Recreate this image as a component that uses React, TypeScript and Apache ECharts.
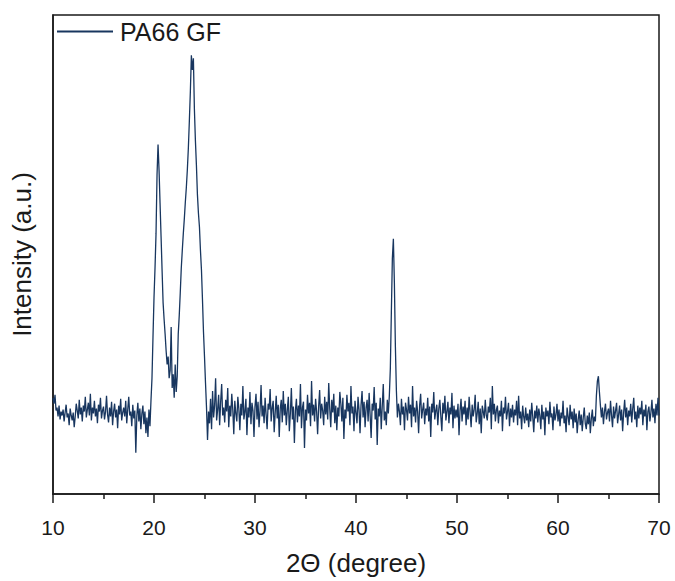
import React, { useEffect, useRef } from "react";
import * as echarts from "echarts";

const seriesName = "PA66 GF";
const angleStart = 10;
const angleStep = 0.1;
const xTicks = [10, 20, 30, 40, 50, 60, 70];

const intensity: number[] = [
  98, 92, 101, 85, 88, 79, 90, 76, 84, 80,
  86, 74, 83, 91, 78, 82, 70, 87, 80, 75,
  83, 68, 79, 92, 85, 77, 96, 81, 88, 74,
  90, 84, 99, 78, 86, 93, 80, 102, 75, 88,
  82, 95, 79, 87, 72, 91, 84, 98, 77, 85,
  89, 76, 84, 100, 81, 73, 88, 79, 94, 70,
  84, 92, 78, 86, 67, 90, 81, 97, 75, 83,
  88, 79, 95, 72, 86, 99, 80, 84, 69, 91,
  77, 85, 42, 80, 93, 74, 87, 66, 82, 90,
  71, 84, 62, 78, 58, 86, 69, 95, 118, 160,
  200, 230, 265, 325, 356, 330, 296, 262, 228, 195,
  178, 163, 146, 132, 140, 118, 126, 170, 108, 122,
  98, 132, 104, 120, 163, 182, 205, 230, 248, 265,
  280, 297, 312, 330, 352, 380, 410, 447, 432, 444,
  392, 360, 335, 305, 286, 272, 248, 228, 198, 165,
  140, 113, 88, 55, 84, 72, 97, 66, 105, 78,
  90, 118, 75, 86, 101, 70, 94, 112, 80, 88,
  73, 96, 84, 108, 68, 90, 79, 102, 86, 61,
  95, 82, 74, 99, 87, 65, 92, 80, 110, 76,
  84, 97, 60, 88, 78, 104, 71, 93, 85, 58,
  89, 102, 76, 94, 68, 85, 111, 79, 90, 72,
  98, 81, 66, 92, 86, 107, 74, 88, 95, 63,
  83, 100, 77, 91, 58, 87, 96, 73, 105, 80,
  92, 70, 86, 99, 64, 82, 108, 76, 89, 52,
  85, 97, 73, 90, 79, 112, 67, 88, 94, 47,
  86, 75, 101, 82, 93, 69, 115, 80, 91, 74,
  97, 84, 61, 89, 106, 77, 92, 85, 70, 99,
  81, 94, 76, 113, 87, 68, 96, 83, 102, 72,
  90, 65, 88, 79, 104, 92, 74, 98, 56, 86,
  77, 101, 84, 93, 70, 110, 82, 89, 64, 95,
  83, 72, 99, 86, 62, 91, 105, 78, 94, 68,
  88, 96, 74, 103, 80, 57, 92, 85, 109, 76,
  93, 50, 87, 79, 98, 66, 90, 112, 75, 84,
  70, 96, 82, 100, 128, 185, 240, 260, 215, 150,
  105, 78, 92, 84, 70, 97, 81, 89, 65, 93,
  86, 75, 99, 82, 91, 68, 110, 79, 88, 73,
  95, 84, 62, 90, 102, 77, 86, 93, 71, 87,
  80, 98, 74, 89, 58, 92, 83, 104, 76, 85,
  91, 70, 87, 96, 79, 64, 93, 82, 100, 75,
  84, 94, 72, 88, 81, 103, 67, 90, 77, 86,
  78, 92, 60, 85, 97, 74, 89, 81, 95, 70,
  88, 76, 99, 83, 68, 91, 79, 86, 101, 73,
  82, 94, 71, 87, 62, 90, 84, 77, 96, 80,
  75, 89, 83, 98, 66, 110, 81, 92, 74, 86,
  90, 72, 85, 79, 95, 64, 88, 82, 99, 76,
  84, 93, 69, 87, 78, 91, 73, 86, 80, 95,
  70, 100, 77, 84, 66, 90, 79, 72, 88, 75,
  82, 68, 86, 74, 93, 79, 63, 85, 77, 90,
  73, 87, 80, 66, 91, 76, 84, 60, 88, 79,
  85, 71, 94, 78, 82, 65, 89, 75, 81, 92,
  74, 86, 69, 83, 77, 95, 72, 80, 63, 88,
  79, 70, 91, 76, 84, 67, 87, 73, 82, 62,
  76, 85, 70, 81, 64, 78, 88, 72, 66, 80,
  71, 83, 62, 77, 86, 69, 79, 74, 100, 115,
  120, 104, 90, 78, 88, 71, 84, 92, 76, 83,
  87, 74, 95, 80, 68, 89, 77, 85, 93, 72,
  81, 90, 75, 86, 64, 83, 96, 78, 88, 70,
  85, 79, 92, 73, 87, 98, 76, 84, 68, 90,
  77, 88, 81, 95, 70, 86, 79, 91, 65, 84,
  89, 74, 83, 96, 78, 87, 72, 92, 80, 98,
  80,
];

const FONT = "'Liberation Sans', Arial, Helvetica, sans-serif";
const INK = "#1a1a1a";
const LINE = "#18365f";

export default function App() {
  const ref = useRef<HTMLDivElement>(null);
  useEffect(() => {
    if (!ref.current) return;
    const chart = echarts.init(ref.current, null, { renderer: "svg" });
    const data = intensity.map((v, i) => [
      Math.round((angleStart + i * angleStep) * 10) / 10,
      v,
    ]);
    chart.setOption({
      animation: false,
      backgroundColor: "#ffffff",
      textStyle: { fontFamily: FONT },
      grid: {
        left: 53,
        right: 16,
        top: 15,
        bottom: 78,
        show: true,
        borderColor: INK,
        borderWidth: 1.5,
        containLabel: false,
      },
      legend: {
        show: true,
        left: 57,
        top: 19,
        padding: 0,
        icon: "rect",
        itemWidth: 56,
        itemHeight: 2,
        itemGap: 8,
        data: [seriesName],
        textStyle: { fontSize: 25, color: INK, fontFamily: FONT, padding: [0, 0, 0, 2] },
      },
      xAxis: {
        type: "value",
        min: xTicks[0],
        max: xTicks[xTicks.length - 1],
        interval: 10,
        name: "2Θ (degree)",
        nameLocation: "middle",
        nameGap: 56,
        nameTextStyle: { fontSize: 26, color: INK, fontFamily: FONT },
        axisLine: { show: true, lineStyle: { color: INK, width: 1.5 } },
        axisTick: { show: true, length: 9, lineStyle: { color: INK, width: 1.5 } },
        minorTick: { show: true, splitNumber: 2, length: 5, lineStyle: { color: INK, width: 1.5 } },
        axisLabel: { show: true, fontSize: 21, color: INK, margin: 23, fontFamily: FONT },
        splitLine: { show: false },
        minorSplitLine: { show: false },
      },
      yAxis: {
        type: "value",
        min: 0,
        max: 488,
        name: "Intensity (a.u.)",
        nameLocation: "middle",
        nameGap: 18,
        nameTextStyle: { fontSize: 26, color: INK, fontFamily: FONT },
        axisLine: { show: true, lineStyle: { color: INK, width: 1.5 } },
        axisTick: { show: false },
        axisLabel: { show: false },
        splitLine: { show: false },
      },
      series: [
        {
          name: seriesName,
          type: "line",
          data,
          showSymbol: false,
          symbol: "none",
          lineStyle: { color: LINE, width: 1.3 },
          itemStyle: { color: LINE },
          emphasis: { disabled: true },
        },
      ],
    });
    return () => chart.dispose();
  }, []);
  return <div ref={ref} style={{ width: 675, height: 581, position: "absolute", left: 0, top: 0 }} />;
}
